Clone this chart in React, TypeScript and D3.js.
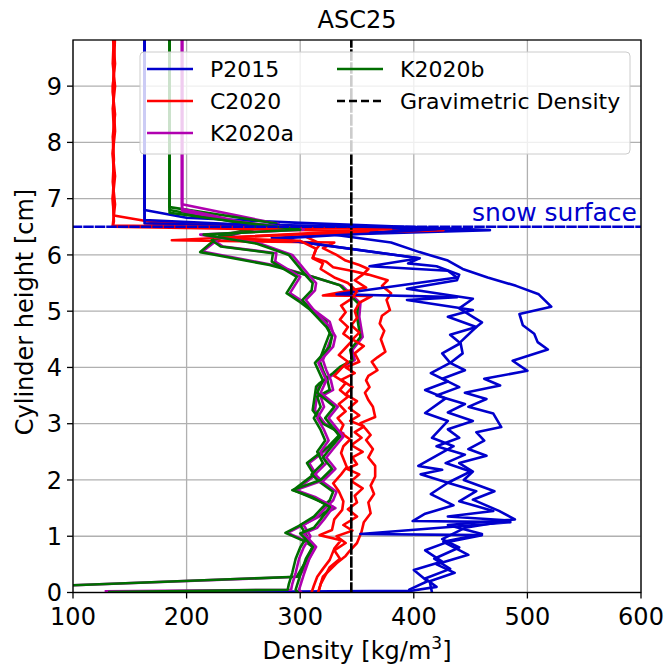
import React from "react";
import * as d3 from "d3";

// ---------- data ----------
const title = "ASC25";
const xTicks = [100, 200, 300, 400, 500, 600];
const yTicks = [0, 1, 2, 3, 4, 5, 6, 7, 8, 9];
const gravimetricDensity = 345;
const snowSurface = 6.5;

type P = [number, number]; // [density, height]

const P2015_1: P[] = [[163,9.9],[163,6.80],[200,6.66],[300,6.57],[467,6.44],[330,6.36],[380,6.22],[405,6.05],[430,5.9],[443,5.75],[465,5.6],[490,5.45],[510,5.3],[521,5.08],[493,4.95],[496,4.75],[506,4.6],[509,4.45],[518,4.32],[487,4.12],[500,3.94],[462,3.8],[476,3.68],[445,3.55],[464,3.44],[448,3.3],[470,3.18],[477,2.94],[455,2.85],[462,2.7],[448,2.55],[464,2.43],[440,2.3],[452,2.15],[444,2.0],[471,1.8],[452,1.65],[475,1.45],[489,1.3],[430,1.2],[460,1.04],[426,0.9],[448,0.67],[420,0.5],[436,0.35],[414,0.2],[416,0.0]];
const P2015_2: P[] = [[163,9.9],[163,6.56],[280,6.5],[420,6.46],[275,6.3],[405,5.94],[395,5.85],[420,5.8],[440,5.65],[438,5.55],[394,5.4],[452,5.22],[440,5.05],[452,4.9],[460,4.8],[455,4.72],[441,4.45],[443,4.25],[432,4.08],[445,3.95],[425,3.8],[440,3.65],[420,3.5],[445,3.35],[430,3.2],[452,3.05],[430,2.9],[440,2.75],[420,2.6],[445,2.45],[428,2.3],[450,2.15],[430,1.95],[455,1.8],[440,1.62],[470,1.45],[430,1.35],[485,1.28],[445,1.15],[425,0.95],[440,0.8],[418,0.6],[432,0.42],[410,0.25],[420,0.1],[398,0.03],[131,0.0]];
const P2015_3: P[] = [[163,9.9],[163,6.62],[240,6.55],[430,6.47],[279,6.29],[405,5.94],[361,5.8],[430,5.72],[438,5.6],[332,5.3],[438,5.25],[394,5.2],[452,5.02],[430,4.9],[455,4.72],[432,4.58],[441,4.43],[425,4.25],[432,4.08],[415,3.9],[430,3.75],[410,3.6],[428,3.45],[410,3.19],[430,3.05],[416,2.75],[435,2.6],[404,2.25],[425,2.18],[406,2.1],[430,1.95],[415,1.75],[435,1.55],[410,1.4],[399,1.27],[485,1.25],[353,1.04],[460,1.02],[430,0.9],[410,0.75],[425,0.55],[400,0.4],[412,0.2],[396,0.05],[398,0.0]];

const C2020_1: P[] = [[136,9.9],[135,9.4],[137,9.0],[135,8.6],[136,8.2],[135,7.8],[137,7.4],[135,7.0],[136,6.7],[168,6.59],[300,6.5],[426,6.44],[330,6.38],[305,6.32],[318,6.2],[314,6.1],[311,5.95],[323,5.88],[329,5.78],[345,5.72],[360,5.65],[377,5.55],[372,5.45],[380,5.32],[376,5.2],[379,5.02],[372,4.92],[370,4.78],[374,4.65],[371,4.5],[375,4.28],[368,4.18],[363,4.1],[368,3.95],[360,3.85],[358,3.77],[361,3.65],[357,3.55],[360,3.42],[364,3.3],[366,3.12],[353,3.01],[358,2.9],[362,2.8],[358,2.71],[364,2.55],[360,2.4],[366,2.25],[366,2.06],[362,1.9],[365,1.75],[360,1.6],[362,1.41],[356,1.25],[354,1.08],[350,0.88],[344,0.75],[340,0.65],[332,0.52],[326,0.4],[320,0.28],[318,0.15],[316,0.0]];
const C2020_2: P[] = [[137,9.9],[136,9.3],[135,8.9],[137,8.5],[135,8.1],[136,7.7],[135,7.3],[137,6.9],[135,6.52],[380,6.46],[187,6.26],[330,6.22],[320,6.12],[332,6.0],[340,5.9],[352,5.82],[360,5.75],[355,5.65],[348,5.55],[358,5.42],[320,5.28],[363,5.27],[352,5.15],[348,5.0],[350,4.88],[345,4.75],[352,4.62],[346,4.5],[356,4.38],[348,4.25],[352,4.1],[340,4.0],[348,3.9],[336,3.78],[346,3.65],[340,3.52],[350,3.4],[343,3.28],[352,3.15],[344,3.05],[356,2.95],[348,2.85],[354,2.75],[345,2.62],[355,2.5],[346,2.4],[350,2.28],[341,2.2],[352,2.1],[345,1.98],[355,1.85],[348,1.72],[350,1.6],[342,1.48],[350,1.35],[338,1.2],[346,1.1],[332,1.0],[340,0.88],[330,0.75],[335,0.6],[326,0.45],[322,0.3],[318,0.15],[316,0.02]];
const C2020_3: P[] = [[135,9.9],[137,9.4],[135,9.0],[136,8.6],[137,8.2],[135,7.8],[136,7.4],[135,7.0],[136,6.6],[135,6.5],[360,6.42],[225,6.3],[300,6.25],[314,6.11],[311,5.94],[320,5.85],[318,5.75],[330,5.6],[342,5.5],[350,5.35],[345,5.22],[336,5.1],[340,4.98],[335,4.85],[342,4.72],[338,4.6],[346,4.48],[340,4.35],[334,4.22],[342,4.1],[336,3.98],[330,3.85],[340,3.72],[335,3.6],[342,3.48],[334,3.35],[340,3.22],[333,3.1],[338,2.98],[335,2.85],[344,2.72],[338,2.6],[336,2.48],[341,2.23],[336,2.1],[329,1.94],[334,1.8],[338,1.62],[337,1.47],[330,1.3],[328,1.11],[317,1.02],[336,0.93],[330,0.78],[326,0.58],[320,0.42],[315,0.28],[312,0.12],[310,0.0]];

const K2020a_1: P[] = [[196,9.9],[196,6.9],[281,6.55],[232,6.34],[214,6.06],[276,5.82],[313,5.6],[337,5.45],[353,5.14],[352,4.9],[355,4.54],[346,4.31],[348,4.13],[337,4.01],[331,3.9],[319,3.72],[316,3.66],[313,3.24],[322,3.0],[338,2.83],[327,2.6],[308,2.3],[314,2.1],[296,1.82],[322,1.6],[331,1.5],[312,1.3],[289,1.06],[307,0.9],[313,0.81],[306,0.52],[299,0.28],[88,0.12]];
const K2020a_2: P[] = [[196,9.9],[196,6.82],[267,6.5],[224,6.26],[232,6.15],[279,6.03],[278,5.88],[300,5.61],[291,5.32],[303,5.16],[312,5.02],[326,4.81],[329,4.61],[325,4.4],[320,4.13],[323,3.95],[327,3.77],[329,3.6],[318,3.48],[321,3.3],[315,3.1],[321,2.89],[325,2.7],[318,2.5],[323,2.3],[313,2.1],[321,1.95],[332,1.79],[329,1.64],[323,1.52],[315,1.35],[303,1.2],[309,1.0],[303,0.8],[299,0.6],[296,0.35],[293,0.15],[292,0.05],[129,0.02]];
const K2020a_3: P[] = [[196,9.9],[196,6.78],[243,6.6],[303,6.45],[212,6.36],[265,6.2],[293,6.0],[309,5.61],[314,5.5],[313,5.37],[305,5.2],[312,5.02],[326,4.72],[331,4.55],[329,4.37],[316,4.08],[323,3.77],[318,3.55],[333,3.3],[325,3.1],[338,2.77],[329,2.55],[323,2.4],[331,2.2],[321,2.0],[296,1.82],[313,1.7],[329,1.52],[321,1.3],[315,1.15],[303,1.05],[314,0.81],[308,0.6],[303,0.31],[299,0.05],[301,0.0]];

const K2020b_1: P[] = [[185,9.9],[185,6.85],[279,6.56],[229,6.34],[212,6.05],[273,5.82],[311,5.61],[335,5.46],[351,5.14],[350,4.9],[353,4.54],[344,4.31],[346,4.13],[335,4.01],[329,3.9],[317,3.72],[314,3.66],[311,3.24],[320,3.0],[336,2.83],[325,2.6],[306,2.3],[312,2.1],[294,1.82],[320,1.6],[329,1.5],[310,1.3],[287,1.06],[305,0.9],[311,0.81],[304,0.52],[297,0.28],[90,0.12]];
const K2020b_2: P[] = [[185,9.9],[185,6.8],[265,6.5],[222,6.26],[230,6.15],[276,6.03],[275,5.88],[297,5.61],[288,5.32],[300,5.16],[309,5.02],[323,4.81],[326,4.61],[322,4.4],[317,4.13],[320,3.95],[324,3.77],[326,3.6],[315,3.48],[318,3.3],[312,3.1],[318,2.89],[322,2.7],[315,2.5],[320,2.3],[310,2.1],[318,1.95],[329,1.79],[326,1.64],[320,1.52],[312,1.35],[300,1.2],[306,1.0],[300,0.8],[296,0.6],[293,0.35],[290,0.15],[289,0.05],[132,0.01]];
const K2020b_3: P[] = [[185,9.9],[185,6.75],[240,6.6],[300,6.45],[215,6.36],[262,6.2],[290,6.0],[306,5.61],[311,5.5],[310,5.37],[302,5.2],[309,5.02],[323,4.72],[328,4.55],[326,4.37],[313,4.08],[320,3.77],[315,3.55],[330,3.3],[322,3.1],[335,2.77],[326,2.55],[320,2.4],[328,2.2],[318,2.0],[293,1.82],[310,1.7],[326,1.52],[318,1.3],[312,1.15],[300,1.05],[311,0.81],[305,0.6],[300,0.31],[296,0.05],[298,0.0]];

const seriesNames = ["P2015", "C2020", "K2020a", "K2020b"];
const seriesColors = ["#0000cc", "#ff0000", "#b000b0", "#006e00"];
const seriesProfiles: P[][][] = [
  [P2015_1, P2015_2, P2015_3],
  [C2020_1, C2020_2, C2020_3],
  [K2020a_1, K2020a_2, K2020a_3],
  [K2020b_1, K2020b_2, K2020b_3],
];

// ---------- layout ----------
const W = 666, H = 669;
const L = 73, R = 641, T = 40, B = 592.5;
const FONT = "'DejaVu Sans', sans-serif";

export default function App() {
  const x = d3.scaleLinear().domain([100, 600]).range([L, R]);
  const y = d3.scaleLinear().domain([0, 9.82]).range([B, T]);
  const line = d3.line<P>().x((d) => x(d[0])).y((d) => y(d[1]));

  const draws: { d: string; c: string; k: string }[] = [];
  for (let r = 0; r < 3; r++) {
    for (let s = 0; s < 4; s++) {
      draws.push({ d: line(seriesProfiles[s][r]) || "", c: seriesColors[s], k: `${s}-${r}` });
    }
  }

  const legendRows = [
    { name: seriesNames[0], color: seriesColors[0], col: 0, row: 0, dash: false },
    { name: seriesNames[1], color: seriesColors[1], col: 0, row: 1, dash: false },
    { name: seriesNames[2], color: seriesColors[2], col: 0, row: 2, dash: false },
    { name: seriesNames[3], color: seriesColors[3], col: 1, row: 0, dash: false },
    { name: "Gravimetric Density", color: "#000", col: 1, row: 1, dash: true },
  ];
  const colX = [147, 337];
  const rowY = [69, 101, 133];

  return (
    <svg width={W} height={H} style={{ position: "absolute", left: 0, top: 0, background: "#fff" }} fontFamily={FONT}>
      <defs>
        <clipPath id="plotclip">
          <rect x={L} y={T} width={R - L} height={B - T} />
        </clipPath>
      </defs>
      <rect x={0} y={0} width={W} height={H} fill="#fff" />
      {/* grid */}
      {xTicks.map((t) => (
        <line key={"gx" + t} x1={x(t)} x2={x(t)} y1={T} y2={B} stroke="#b0b0b0" strokeWidth={1.3} />
      ))}
      {yTicks.map((t) => (
        <line key={"gy" + t} x1={L} x2={R} y1={y(t)} y2={y(t)} stroke="#b0b0b0" strokeWidth={1.3} />
      ))}
      <g clipPath="url(#plotclip)" fill="none" strokeLinejoin="round" strokeLinecap="square">
        {draws.map((p) => (
          <path key={p.k} d={p.d} stroke={p.c} strokeWidth={2.6} />
        ))}
        <line x1={x(gravimetricDensity)} x2={x(gravimetricDensity)} y1={B} y2={T} stroke="#000" strokeWidth={2.6} strokeDasharray="9,4" />
        <line x1={L} x2={R} y1={y(snowSurface)} y2={y(snowSurface)} stroke="#0000cc" strokeWidth={2.5} strokeDasharray="8,3.5" />
      </g>
      <text x={637} y={220.5} textAnchor="end" fontSize={25} fill="#0000cc">snow surface</text>
      {/* legend */}
      <rect x={140} y={52} width={490} height={102} rx={4} fill="rgba(255,255,255,0.8)" stroke="#cccccc" strokeWidth={1} />
      {legendRows.map((e) => (
        <g key={e.name}>
          <line x1={colX[e.col]} x2={colX[e.col] + 46} y1={rowY[e.row]} y2={rowY[e.row]} stroke={e.color} strokeWidth={2.6} strokeDasharray={e.dash ? "8,4" : undefined} />
          <text x={colX[e.col] + 63} y={rowY[e.row] + 8} fontSize={22} fill="#000">{e.name}</text>
        </g>
      ))}
      {/* axes */}
      <rect x={L} y={T} width={R - L} height={B - T} fill="none" stroke="#000" strokeWidth={1.3} />
      {xTicks.map((t) => (
        <g key={"tx" + t}>
          <line x1={x(t)} x2={x(t)} y1={B} y2={B + 6} stroke="#000" strokeWidth={1.3} />
          <text x={x(t)} y={624.5} textAnchor="middle" fontSize={24} fill="#000">{t}</text>
        </g>
      ))}
      {yTicks.map((t) => (
        <g key={"ty" + t}>
          <line x1={L - 6} x2={L} y1={y(t)} y2={y(t)} stroke="#000" strokeWidth={1.3} />
          <text x={62} y={y(t) + 8.7} textAnchor="end" fontSize={24} fill="#000">{t}</text>
        </g>
      ))}
      <text x={(L + R) / 2} y={28} textAnchor="middle" fontSize={24} fill="#000">{title}</text>
      <text x={(L + R) / 2} y={659} textAnchor="middle" fontSize={24} fill="#000">
        Density [kg/m<tspan dy={-10} fontSize={17}>3</tspan><tspan dy={10}>]</tspan>
      </text>
      <text transform={`translate(33,312) rotate(-90)`} textAnchor="middle" fontSize={24} fill="#000">Cylinder height [cm]</text>
    </svg>
  );
}
